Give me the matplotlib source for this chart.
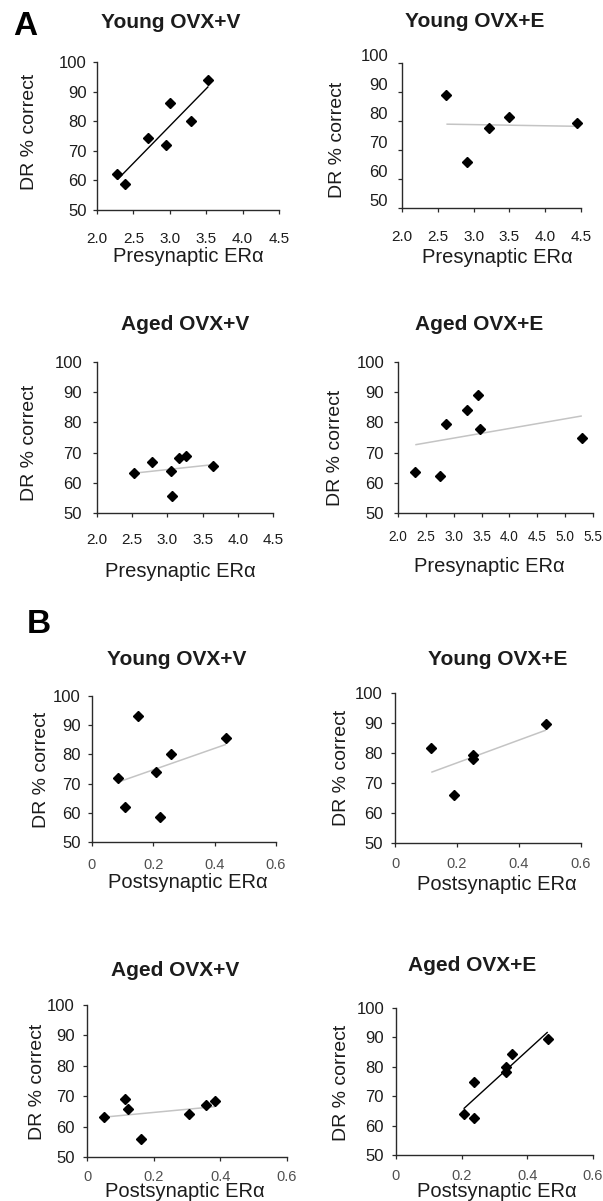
import numpy as np
import matplotlib
matplotlib.use("Agg")
import matplotlib.pyplot as plt
from matplotlib.transforms import ScaledTranslation

plt.rcParams['font.family'] = ['Liberation Sans', 'DejaVu Sans']

# ---------------- data ----------------
titles = ["Young OVX+V", "Young OVX+E", "Aged OVX+V", "Aged OVX+E",
          "Young OVX+V", "Young OVX+E", "Aged OVX+V", "Aged OVX+E"]
xlabels = ["Presynaptic ERα"] * 4 + ["Postsynaptic ERα"] * 4
ylabel = "DR % correct"
panel_letters = ["A", "B"]

pre_young_v_x = [2.28, 2.39, 2.70, 2.95, 3.00, 3.29, 3.53]
pre_young_v_y = [62.1, 58.7, 74.4, 71.9, 86.1, 80.1, 93.8]
pre_young_e_x = [2.62, 2.91, 3.22, 3.49, 4.44]
pre_young_e_y = [89.1, 65.9, 77.5, 81.3, 79.3]
pre_aged_v_x = [2.52, 2.78, 3.05, 3.06, 3.16, 3.26, 3.65]
pre_aged_v_y = [63.1, 66.8, 63.8, 55.7, 68.2, 68.8, 65.5]
pre_aged_e_x = [2.31, 2.75, 2.87, 3.23, 3.44, 3.48, 5.30]
pre_aged_e_y = [63.5, 62.4, 79.5, 84.0, 89.2, 77.8, 74.8]

post_young_v_x = [0.084, 0.109, 0.150, 0.208, 0.222, 0.258, 0.437]
post_young_v_y = [72.0, 62.0, 93.2, 74.1, 58.6, 80.0, 85.7]
post_young_e_x = [0.117, 0.190, 0.250, 0.251, 0.487]
post_young_e_y = [81.8, 65.9, 79.4, 78.1, 89.6]
post_aged_v_x = [0.050, 0.115, 0.122, 0.162, 0.306, 0.356, 0.384]
post_aged_v_y = [63.2, 69.0, 65.9, 55.8, 64.3, 67.0, 68.4]
post_aged_e_x = [0.206, 0.237, 0.237, 0.334, 0.334, 0.352, 0.462]
post_aged_e_y = [63.9, 75.0, 62.7, 79.8, 78.3, 84.4, 89.4]

pre_ticks = [2.0, 2.5, 3.0, 3.5, 4.0, 4.5]
pre_ticks_wide = [2.0, 2.5, 3.0, 3.5, 4.0, 4.5, 5.0, 5.5]
post_ticks = [0, 0.2, 0.4, 0.6]
post_tick_labels = ["0", "0.2", "0.4", "0.6"]
y_ticks = [50, 60, 70, 80, 90, 100]
significant = [True, False, False, False, False, False, False, True]

series = [
    (pre_young_v_x, pre_young_v_y), (pre_young_e_x, pre_young_e_y),
    (pre_aged_v_x, pre_aged_v_y), (pre_aged_e_x, pre_aged_e_y),
    (post_young_v_x, post_young_v_y), (post_young_e_x, post_young_e_y),
    (post_aged_v_x, post_aged_v_y), (post_aged_e_x, post_aged_e_y),
]
xtick_sets = [
    (pre_ticks, [f"{t:.1f}" for t in pre_ticks]),
    (pre_ticks, [f"{t:.1f}" for t in pre_ticks]),
    (pre_ticks, [f"{t:.1f}" for t in pre_ticks]),
    (pre_ticks_wide, [f"{t:.1f}" for t in pre_ticks_wide]),
    (post_ticks, post_tick_labels), (post_ticks, post_tick_labels),
    (post_ticks, post_tick_labels), (post_ticks, post_tick_labels),
]

# ---------------- layout (pixels) ----------------
W, H, DPI = 603, 1201, 100
layout = [
    dict(box=(97, 279, 62, 210), title=(171, 28), ylab=(30, 132), xlab=(188, 262), xgap=22, ygap=10, xfs=11, yshift=0),
    dict(box=(402, 581, 63, 208), title=(475, 27), ylab=(337, 140), xlab=(497, 263), xgap=22, ygap=14, xfs=11, yshift=8),
    dict(box=(97, 273, 362, 513), title=(185, 330), ylab=(30, 443), xlab=(180, 577), xgap=20, ygap=15, xfs=11, yshift=0),
    dict(box=(398, 593, 362, 513), title=(479, 330), ylab=(335, 448), xlab=(489, 572), xgap=17, ygap=14, xfs=9.8, yshift=0),
    dict(box=(92, 276, 696, 842), title=(177, 665), ylab=(42, 770), xlab=(188, 888), xgap=16, ygap=11, xfs=10.5, yshift=0),
    dict(box=(395, 581, 693, 843), title=(498, 665), ylab=(342, 768), xlab=(497, 890), xgap=14, ygap=12, xfs=10.5, yshift=0),
    dict(box=(87, 287, 1005, 1157), title=(175, 976), ylab=(37, 1082), xlab=(185, 1197), xgap=13, ygap=12, xfs=10.5, yshift=0),
    dict(box=(396, 593, 1008, 1155), title=(472, 971), ylab=(342, 1083), xlab=(497, 1197), xgap=14, ygap=12, xfs=10.5, yshift=0),
]
letter_pos = [(13, 35), (27, 633)]

TEXT = '#1c1c1c'
AXC = '#2a2a2a'
TICKLEN = 4  # px
px2pt = 72.0 / DPI

fig = plt.figure(figsize=(W / DPI, H / DPI), dpi=DPI)
fig.patch.set_facecolor('white')

for i, (xs, ys) in enumerate(series):
    L = layout[i]
    l, r, t, b = L['box']
    ax = fig.add_axes([l / W, 1 - b / H, (r - l) / W, (b - t) / H])
    xs_a = np.asarray(xs, float)
    ys_a = np.asarray(ys, float)

    # trend line (least squares fit of the points)
    k, c = np.polyfit(xs_a, ys_a, 1)
    xx = np.array([xs_a.min(), xs_a.max()])
    ax.plot(xx, k * xx + c, color='black' if significant[i] else '#c4c4c4',
            lw=1.0 if significant[i] else 1.1, zorder=2, solid_capstyle='butt')
    ax.plot(xs_a, ys_a, ls='none', marker='D', ms=4.6, color='black', zorder=3, clip_on=False)

    ticks, tlabels = xtick_sets[i]
    ax.set_xlim(ticks[0], ticks[-1])
    ax.set_ylim(y_ticks[0], y_ticks[-1])
    ax.set_xticks(ticks)
    ax.set_xticklabels(tlabels)
    ax.set_yticks(y_ticks)
    ax.set_yticklabels([str(v) for v in y_ticks])

    for s in ('top', 'right'):
        ax.spines[s].set_visible(False)
    for s in ('left', 'bottom'):
        ax.spines[s].set_color(AXC)
        ax.spines[s].set_linewidth(1.0)
    ax.set_facecolor('none')

    xcol = TEXT if i < 4 else '#505050'
    ax.tick_params(axis='x', direction='out', length=TICKLEN * px2pt, width=0.9, color=AXC,
                   pad=(L['xgap'] - TICKLEN) * px2pt, labelsize=L['xfs'], labelcolor=xcol)
    ax.tick_params(axis='y', direction='out', length=TICKLEN * px2pt, width=0.9, color=AXC,
                   pad=(L['ygap'] - TICKLEN) * px2pt, labelsize=12, labelcolor=TEXT)
    if L['yshift']:
        off = ScaledTranslation(0, L['yshift'] / DPI, fig.dpi_scale_trans)
        for lab in ax.get_yticklabels():
            lab.set_transform(lab.get_transform() + off)

    def axc(px, py):
        return (px - l) / (r - l), (b - py) / (b - t)

    tx, ty = axc(*L['title'])
    ax.set_title(titles[i], x=tx, y=ty, va='baseline', ha='center', pad=0,
                 fontsize=15, fontweight='bold', color=TEXT)
    ax.set_xlabel(xlabels[i], fontsize=14.5, color=TEXT)
    ax.xaxis.set_label_coords(*axc(*L['xlab']))
    ax.xaxis.label.set_va('baseline')
    ax.set_ylabel(ylabel, fontsize=14, color=TEXT)
    ax.yaxis.set_label_coords(*axc(*L['ylab']))
    ax.yaxis.label.set_va('center')
    ax.yaxis.label.set_ha('center')

for letter, (lx, ly) in zip(panel_letters, letter_pos):
    fig.text(lx / W, 1 - ly / H, letter, fontsize=24, fontweight='bold',
             ha='left', va='baseline', color='black')

fig.savefig('out.png', dpi=DPI, facecolor='white')
